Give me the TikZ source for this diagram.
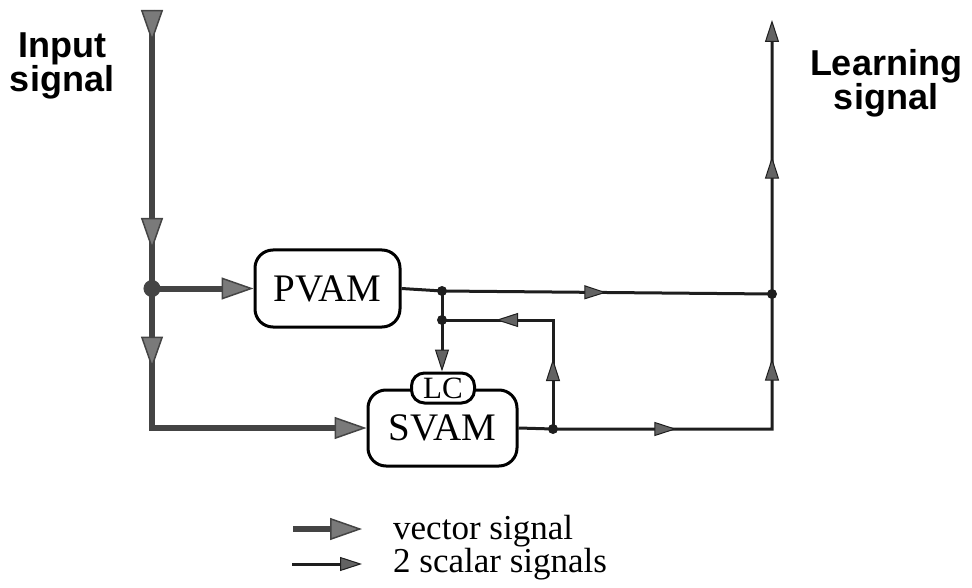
\documentclass[tikz,border=0pt]{standalone}
\usepackage{fontspec}
\setmainfont{Liberation Serif}
\setsansfont{Liberation Sans}
\usetikzlibrary{arrows.meta,decorations.markings}
\definecolor{vecline}{HTML}{444444}
\definecolor{vecfill}{HTML}{7A7A7A}
\definecolor{scaline}{HTML}{1E1E1E}
\definecolor{scafill}{HTML}{636363}
\tikzset{
  vtip/.tip={Triangle[length=32pt,width=22pt,line width=1.5pt,color=vecline,fill=vecfill]},
  stip/.tip={Triangle[length=22pt,width=14pt,line width=1pt,color=scaline,fill=scafill]},
  vec/.style={line width=6pt,draw=vecline,line join=miter},
  sca/.style={line width=3pt,draw=scaline,line join=miter},
  vmark/.style={postaction={decorate,decoration={markings,mark=at position #1 with {\arrow{vtip}}}}},
  smark/.style={postaction={decorate,decoration={markings,mark=at position #1 with {\arrow{stip}}}}},
  blockbox/.style={draw=black,line width=3pt,fill=white,rounded corners=18pt,inner sep=0pt,
    font=\fontsize{39}{39}\selectfont},
  lcbox/.style={draw=black,line width=3pt,fill=white,rounded corners=13pt,inner sep=0pt,
    minimum width=63pt,minimum height=30pt,font=\fontsize{31}{31}\selectfont},
  headlabel/.style={font=\sffamily\bfseries\fontsize{36}{34}\selectfont,align=center},
  legendtext/.style={font=\fontsize{35}{35}\selectfont,anchor=base west,inner sep=0pt},
  vdot/.style={fill=vecline,draw=vecline,line width=1pt},
  sdot/.style={fill=scaline}
}
\begin{document}
\begin{tikzpicture}[x=1pt,y=-1pt]
\useasboundingbox (0,0) rectangle (972,588);

% blocks
\node[blockbox,minimum width=145pt,minimum height=77pt] (pvam) at (327.5,288.5) {PVAM};
\node[blockbox,minimum width=149pt,minimum height=76pt] (svam) at (442.5,428) {SVAM};

% coordinates
\coordinate (intop) at (152,10);
\coordinate (j1) at (152,288.5);
\coordinate (c1) at (152,428);
\coordinate (d1) at (442,291);
\coordinate (d2) at (772,294);
\coordinate (d3) at (442,320);
\coordinate (d4) at (553,429);
\coordinate (c2) at (553,320);
\coordinate (c3) at (772,429);
\coordinate (outtop) at (772,20);

% vector signals
\draw[vec,vmark=32pt,vmark=240pt] (intop) -- (j1);
\draw[vec,vmark=80pt,-vtip] (j1) -- (c1) -- (c1 -| svam.west);
\draw[vec,-vtip] (j1) -- (pvam.west);
\draw[vdot] (j1) circle (8pt);

% LC box (over SVAM)
\node[lcbox] (lc) at (443,388) {LC};

% scalar signals
\draw[sca,smark=205pt] (pvam.east) -- (d1) -- (d2);
\draw[sca,-stip] (d1) -- (d1 |- lc.north);
\draw[sca,smark=70pt,smark=166pt] (d4) -- (c2) -- (d3);
\draw[sca,smark=158pt,smark=324pt,smark=526pt,-stip] (svam.east) -- (d4) -- (c3) -- (d2) -- (outtop);
\foreach \p in {d1,d2,d3,d4} \fill[sdot] (\p) circle (5pt);

% labels
\node[headlabel] (inlab) at (62,66) {Input\\signal};
\node[headlabel] (learnlab) at (886,83) {Learning\\signal};

% legend
\coordinate (lv1) at (293,529);
\coordinate (lv2) at (362,529);
\coordinate (ls1) at (292,564);
\coordinate (ls2) at (362,564);
\draw[vec,-vtip] (lv1) -- (lv2);
\draw[sca,-stip] (ls1) -- (ls2);
\node[legendtext] (lt1) at (393,539) {vector signal};
\node[legendtext] (lt2) at (393,572) {2 scalar signals};
\end{tikzpicture}
\end{document}
